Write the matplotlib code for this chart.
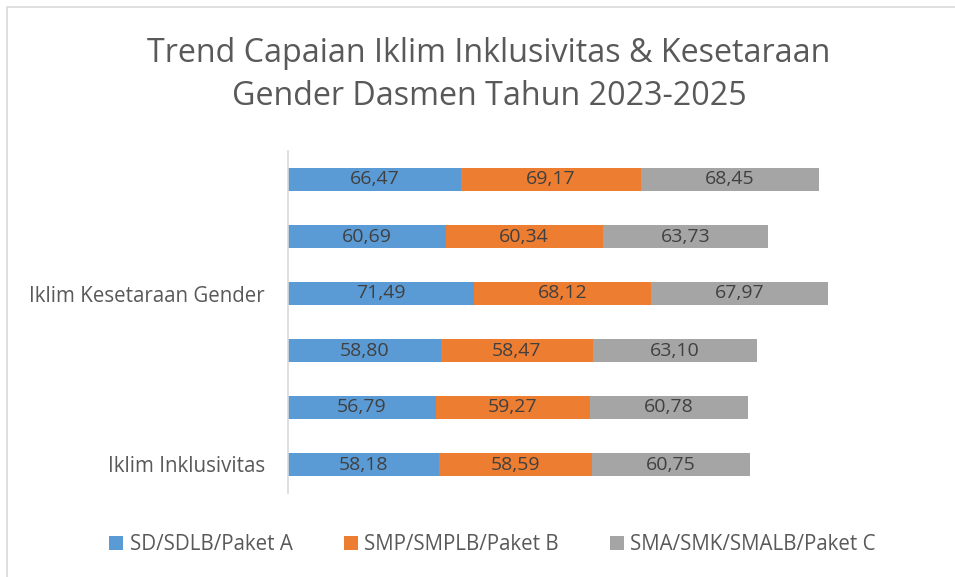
import numpy as np
import matplotlib
matplotlib.use("Agg")
import matplotlib.pyplot as plt
from matplotlib.patches import Rectangle, Patch

plt.rcParams["font.family"] = ["Open Sans", "DejaVu Sans"]

# categories from bottom to top (only every third label is shown, as in the original)
categories = ["Iklim Inklusivitas", "", "", "Iklim Kesetaraan Gender", "", ""]
series_names = ["SD/SDLB/Paket A", "SMP/SMPLB/Paket B", "SMA/SMK/SMALB/Paket C"]
sd_values = [58.18, 56.79, 58.80, 71.49, 60.69, 66.47]
smp_values = [58.59, 59.27, 58.47, 68.12, 60.34, 69.17]
sma_values = [60.75, 60.78, 63.10, 67.97, 63.73, 68.45]
colors = ["#5B9BD5", "#ED7D31", "#A5A5A5"]

W, H = 955, 577
fig = plt.figure(figsize=(W / 100, H / 100), dpi=100)

# chart border (light grey, like the Excel chart area)
fig.patches.append(Rectangle((7 / W, -0.05), 1.1, (H - 7) / H + 0.05, transform=fig.transFigure,
                             fill=False, edgecolor="#D9D9D9", linewidth=1.2))

ax = fig.add_axes([288 / W, (H - 493) / H, 650 / W, 342 / H])

y = np.arange(len(categories))
left = np.zeros(len(categories))
for vals, name, col in zip([sd_values, smp_values, sma_values], series_names, colors):
    vals = np.array(vals)
    bars = ax.barh(y, vals, left=left, height=0.4, color=col, label=name)
    for b, v in zip(bars, vals):
        ax.text(b.get_x() + b.get_width() / 2, b.get_y() + b.get_height() / 2,
                f"{v:.2f}".replace(".", ","), ha="center", va="center",
                fontsize=14, color="#404040")
    left += vals

ax.set_xlim(0, 250)
ax.set_ylim(-0.5, len(categories) - 0.5)
ax.set_yticks(y)
ax.set_yticklabels(categories, fontsize=14.8, color="#595959")
ax.tick_params(axis="y", length=0, pad=16.5)
ax.set_xticks([])
for s in ["top", "right", "bottom"]:
    ax.spines[s].set_visible(False)
ax.spines["left"].set_color("#D9D9D9")
ax.spines["left"].set_linewidth(1.2)

fig.text(489 / W, 1 - 75 / H, "Trend Capaian Iklim Inklusivitas & Kesetaraan\nGender Dasmen Tahun 2023-2025",
         ha="center", va="center", fontsize=23.2, color="#595959", linespacing=1.4)

handles = [Patch(facecolor=c, edgecolor="none") for c in colors]
fig.legend(handles, series_names, loc="center", bbox_to_anchor=(492.5 / W, 1 - 545 / H), ncol=3,
           frameon=False, fontsize=14.8, labelcolor="#595959", handlelength=0.68, handleheight=0.68,
           handletextpad=0.3, columnspacing=2.5)

fig.savefig("out.png", dpi=100)
